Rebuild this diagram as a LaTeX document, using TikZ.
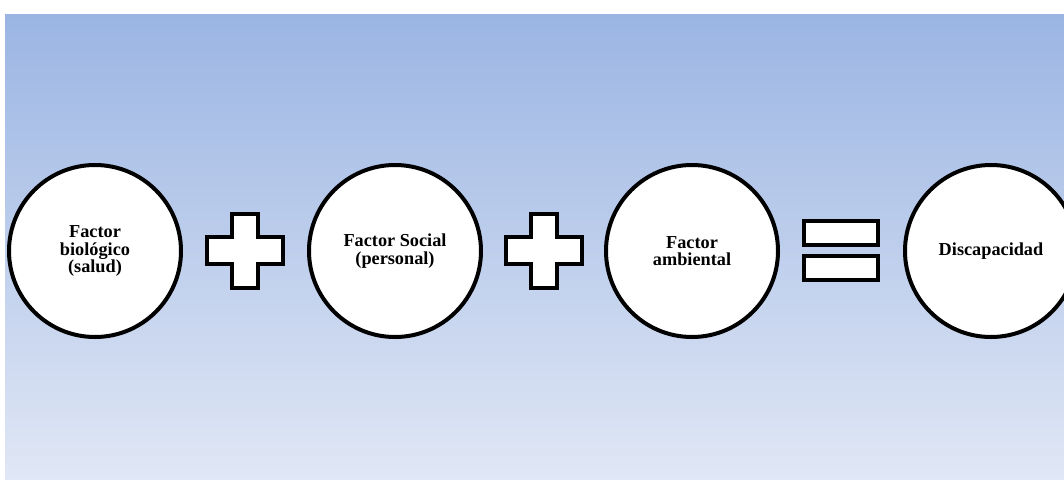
\documentclass[tikz,border=0pt]{standalone}
\usepackage{fontspec}
\setmainfont{Liberation Serif}
\definecolor{bgtop}{RGB}{155,181,227}
\definecolor{bgbottom}{RGB}{224,231,245}

\begin{document}
\begin{tikzpicture}
[x=0.75pt,y=-0.75pt,
 every node/.style={circle,draw,line width=3pt,fill=white,minimum size=129pt,align=center,
   inner sep=0pt,font=\bfseries\fontsize{13.7}{13.1}\selectfont},
 sign/.style={draw,line width=3pt,fill=white,line join=miter}]
\useasboundingbox (0,0) rectangle (1064,479);
\clip (0,0) rectangle (1064,479);
\shade[top color=bgtop,bottom color=bgbottom] (5,14) rectangle (1064,479);
\node (fbio) at (95,251) {Factor\\biológico\\(salud)};
\node (fsoc) at (395,251) {Factor Social\\(personal)};
\node (famb) at (692,251) {Factor\\ambiental};
\node (disc) at (991,251) {Discapacidad};
% plus signs
\foreach \cx in {245,544}
\draw[sign] (\cx-13,214) -- (\cx+13,214) -- (\cx+13,237) -- (\cx+38,237) -- (\cx+38,264)
  -- (\cx+13,264) -- (\cx+13,288) -- (\cx-13,288) -- (\cx-13,264) -- (\cx-38,264)
  -- (\cx-38,237) -- (\cx-13,237) -- cycle;
% equals sign
\draw[sign] (804,221) rectangle (878,245);
\draw[sign] (804,256) rectangle (878,280);
\end{tikzpicture}
\end{document}
